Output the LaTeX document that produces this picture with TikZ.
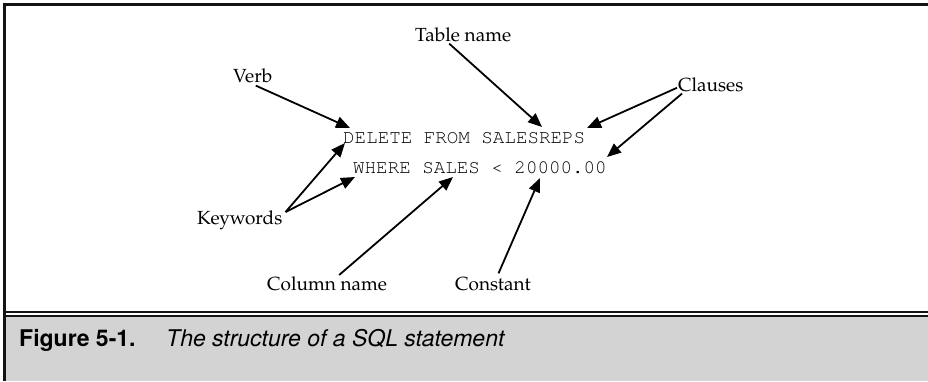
\documentclass[tikz,border=0pt]{standalone}
\usepackage{fontspec}
\setmainfont{TeX Gyre Pagella}
\setmonofont{TeX Gyre Cursor}
\newfontfamily\capfont{TeX Gyre Heros}
\usetikzlibrary{arrows.meta}
\definecolor{capgrey}{HTML}{D3D3D3}
\definecolor{rule}{HTML}{141414}

\begin{document}
\begin{tikzpicture}[x=1pt,y=-1pt,
  nametext/.style={anchor=base west, inner sep=0pt, font=\fontsize{19}{22}\selectfont},
  codetext/.style={anchor=base west, inner sep=0pt, font=\ttfamily\fontsize{19.2}{22}\selectfont},
  captext/.style={anchor=base west, inner sep=0pt},
  pointer/.style={line width=1.8pt, -{Triangle[length=14pt,width=11.5pt]}},
  frameline/.style={draw=rule}
]
\useasboundingbox (0,0) rectangle (928,381);

% caption band and frame rules
\fill[capgrey] (4.5,316) rectangle (928,381);
\draw[frameline, line width=3pt] (3,4.5) -- (928,4.5);
\draw[frameline, line width=2.6pt] (4.5,3) -- (4.5,381);
\draw[frameline, line width=2pt] (4.5,312) -- (928,312);
\draw[frameline, line width=2pt] (4.5,315.5) -- (928,315.5);

% the statement
\node[codetext] (delete) at (343,143) {DELETE FROM SALESREPS};
\node[codetext] (where)  at (353,173) {WHERE SALES < 20000.00};

% part names
\node[nametext] (verb)     at (233,82)  {Verb};
\node[nametext] (table)    at (415,41)  {Table name};
\node[nametext] (clauses)  at (678,91)  {Clauses};
\node[nametext] (keywords) at (197,224) {Keywords};
\node[nametext] (colname)  at (267,290) {Column name};
\node[nametext] (constant) at (455,290) {Constant};

% points the arrows reach on the statement
\coordinate (tipVerb)    at (350,128);
\coordinate (tipTable)   at (542,127);
\coordinate (tipClauseA) at (587,128);
\coordinate (tipClauseB) at (607,157);
\coordinate (tipKeyA)    at (345,143);
\coordinate (tipKeyB)    at (355,177);
\coordinate (tipColumn)  at (453,177);
\coordinate (tipConst)   at (540,178);

% arrows
\draw[pointer] ([xshift=3pt,yshift=-3pt]verb.south) -- (tipVerb);
\draw[pointer] ([xshift=-14pt,yshift=-2pt]table.south) -- (tipTable);
\draw[pointer] ([xshift=-1pt,yshift=-3.5pt]clauses.west) -- (tipClauseA);
\draw[pointer] ([xshift=4pt,yshift=-2pt]clauses.south west) -- (tipClauseB);
\draw[pointer] ([xshift=3pt,yshift=-2pt]keywords.north east) -- (tipKeyA);
\draw[pointer] ([xshift=3pt,yshift=-2pt]keywords.north east) -- (tipKeyB);
\draw[pointer] ([xshift=12pt,yshift=1pt]colname.north) -- (tipColumn);
\draw[pointer] ([xshift=5.5pt,yshift=3pt]constant.north) -- (tipConst);

% caption
\node[captext, font=\capfont\bfseries\fontsize{23}{26}\selectfont] (fignum) at (19,346) {Figure 5-1.};
\node[captext, font=\capfont\itshape\fontsize{23}{26}\selectfont] (figtitle) at (166,346) {The structure of a SQL statement};
\end{tikzpicture}
\end{document}
